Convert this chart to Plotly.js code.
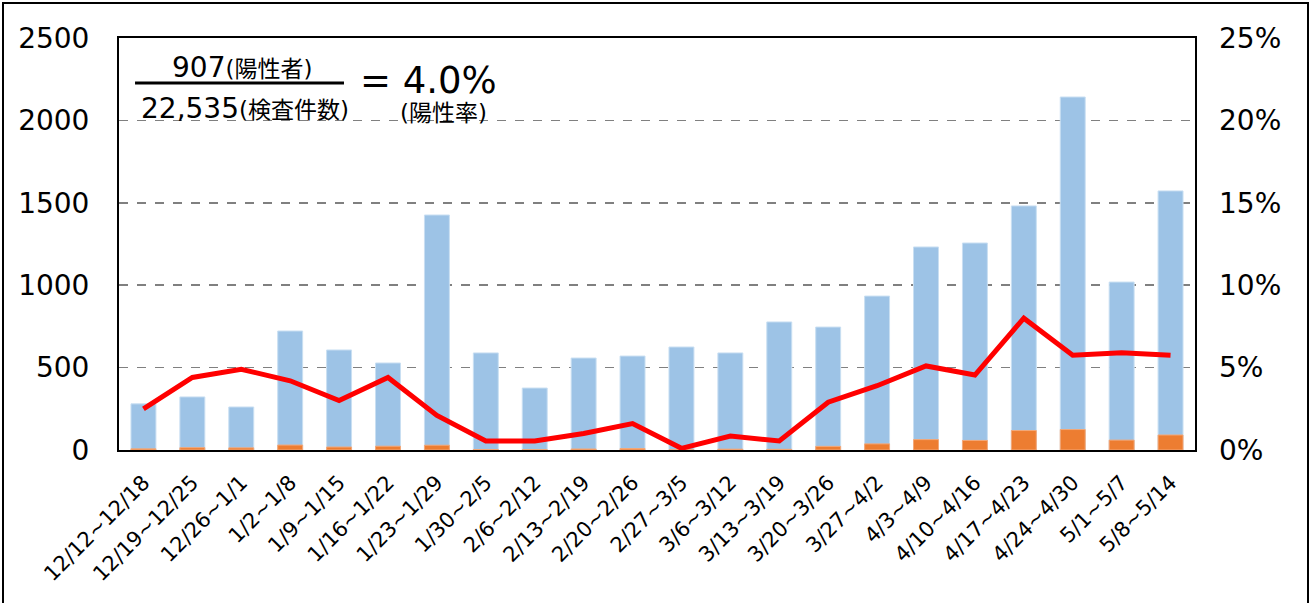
<!DOCTYPE html>
<html>
<head>
<meta charset="utf-8">
<script src="https://cdn.plot.ly/plotly-3.0.1.min.js"></script>
<style>
html,body{margin:0;padding:0;background:#fff;}
#chart{position:absolute;left:0;top:0;width:1311px;height:603px;}
#frame{position:absolute;left:2px;top:2px;width:1303px;height:610px;border:2px solid #000;pointer-events:none;}
</style>
</head>
<body>
<div id="chart"></div>
<div id="frame"></div>
<script>
const weeks = ["12/12~12/18","12/19~12/25","12/26~1/1","1/2~1/8","1/9~1/15","1/16~1/22","1/23~1/29","1/30~2/5","2/6~2/12","2/13~2/19","2/20~2/26","2/27~3/5","3/6~3/12","3/13~3/19","3/20~3/26","3/27~4/2","4/3~4/9","4/10~4/16","4/17~4/23","4/24~4/30","5/1~5/7","5/8~5/14"];
const tests = [280,322,261,722,607,528,1426,589,376,558,570,625,589,777,746,934,1232,1256,1481,2142,1019,1572];
const positives = [7,14,13,30,18,23,29,3,2,6,9,1,5,4,22,37,63,58,118,124,60,91];
const rate = [0.025,0.044,0.049,0.042,0.030,0.044,0.021,0.0055,0.0055,0.010,0.016,0.001,0.0085,0.0055,0.029,0.039,0.051,0.0455,0.080,0.0575,0.059,0.0575];
const leftTicks = [0,500,1000,1500,2000,2500];
const rightTicks = [0,0.05,0.10,0.15,0.20,0.25];

const FONT = "DejaVu Sans, Verdana, Noto Sans CJK JP, sans-serif";

const traces = [
  {type:'bar', x:weeks, y:tests, marker:{color:'#9DC3E6', line:{color:'#C9DFF2', width:1}}, hoverinfo:'y'},
  {type:'bar', x:weeks, y:positives, marker:{color:'#ED7D31', line:{color:'#F4A878', width:1}}, hoverinfo:'y'},
  {type:'scatter', mode:'lines', x:weeks, y:rate, yaxis:'y2', line:{color:'#FF0000', width:5}}
];

const layout = {
  width:1311, height:603,
  margin:{l:119, r:116, t:38, b:153},
  paper_bgcolor:'#fff', plot_bgcolor:'#fff',
  showlegend:false,
  barmode:'overlay',
  bargap:0.49,
  font:{family:FONT, color:'#000'},
  xaxis:{
    type:'category', tickangle:-45, tickfont:{size:21, color:'#000'},
    showline:true, linecolor:'#000', linewidth:2, mirror:true,
    ticks:'', showgrid:false, fixedrange:true, ticklabelstandoff:10
  },
  yaxis:{
    range:[0,2500], tickvals:leftTicks, ticktext:leftTicks.map(String),
    tickfont:{size:28, color:'#000'},
    showline:true, linecolor:'#000', linewidth:2, mirror:true,
    showgrid:true, gridcolor:'#808080', gridwidth:1.5, griddash:'dash',
    zeroline:false, ticks:'', ticklabelstandoff:22
  },
  yaxis2:{
    overlaying:'y', side:'right', range:[0,0.25],
    tickvals:rightTicks, ticktext:rightTicks.map(v=>Math.round(v*100)+'%'),
    tickfont:{size:28, color:'#000'},
    showgrid:false, zeroline:false, showline:false, ticks:'', ticklabelstandoff:23
  },
  shapes:[
    {type:'line', xref:'paper', yref:'paper', x0:0.0149, x1:0.2091, y0:0.8908, y1:0.8908, line:{color:'#000', width:3}}
  ],
  annotations:[
    {xref:'paper', yref:'paper', x:0.1143, y:0.929, showarrow:false, xanchor:'center', yanchor:'middle',
     text:'907<span style="font-size:23px">(陽性者)</span>', font:{size:28, family:FONT, color:'#000'}},
    {xref:'paper', yref:'paper', x:0.1171, y:0.830, showarrow:false, xanchor:'center', yanchor:'middle',
     text:'22,535<span style="font-size:23px">(検査件数)</span>', font:{size:28, family:FONT, color:'#000'}},
    {xref:'paper', yref:'paper', x:0.2221, y:0.898, showarrow:false, xanchor:'left', yanchor:'middle',
     text:'= 4.0%', font:{size:37, family:FONT, color:'#000'}},
    {xref:'paper', yref:'paper', x:0.302, y:0.818, showarrow:false, xanchor:'center', yanchor:'middle',
     text:'(陽性率)', font:{size:23, family:FONT, color:'#000'}}
  ]
};

Plotly.newPlot('chart', traces, layout, {displayModeBar:false, staticPlot:true});
</script>
</body>
</html>
